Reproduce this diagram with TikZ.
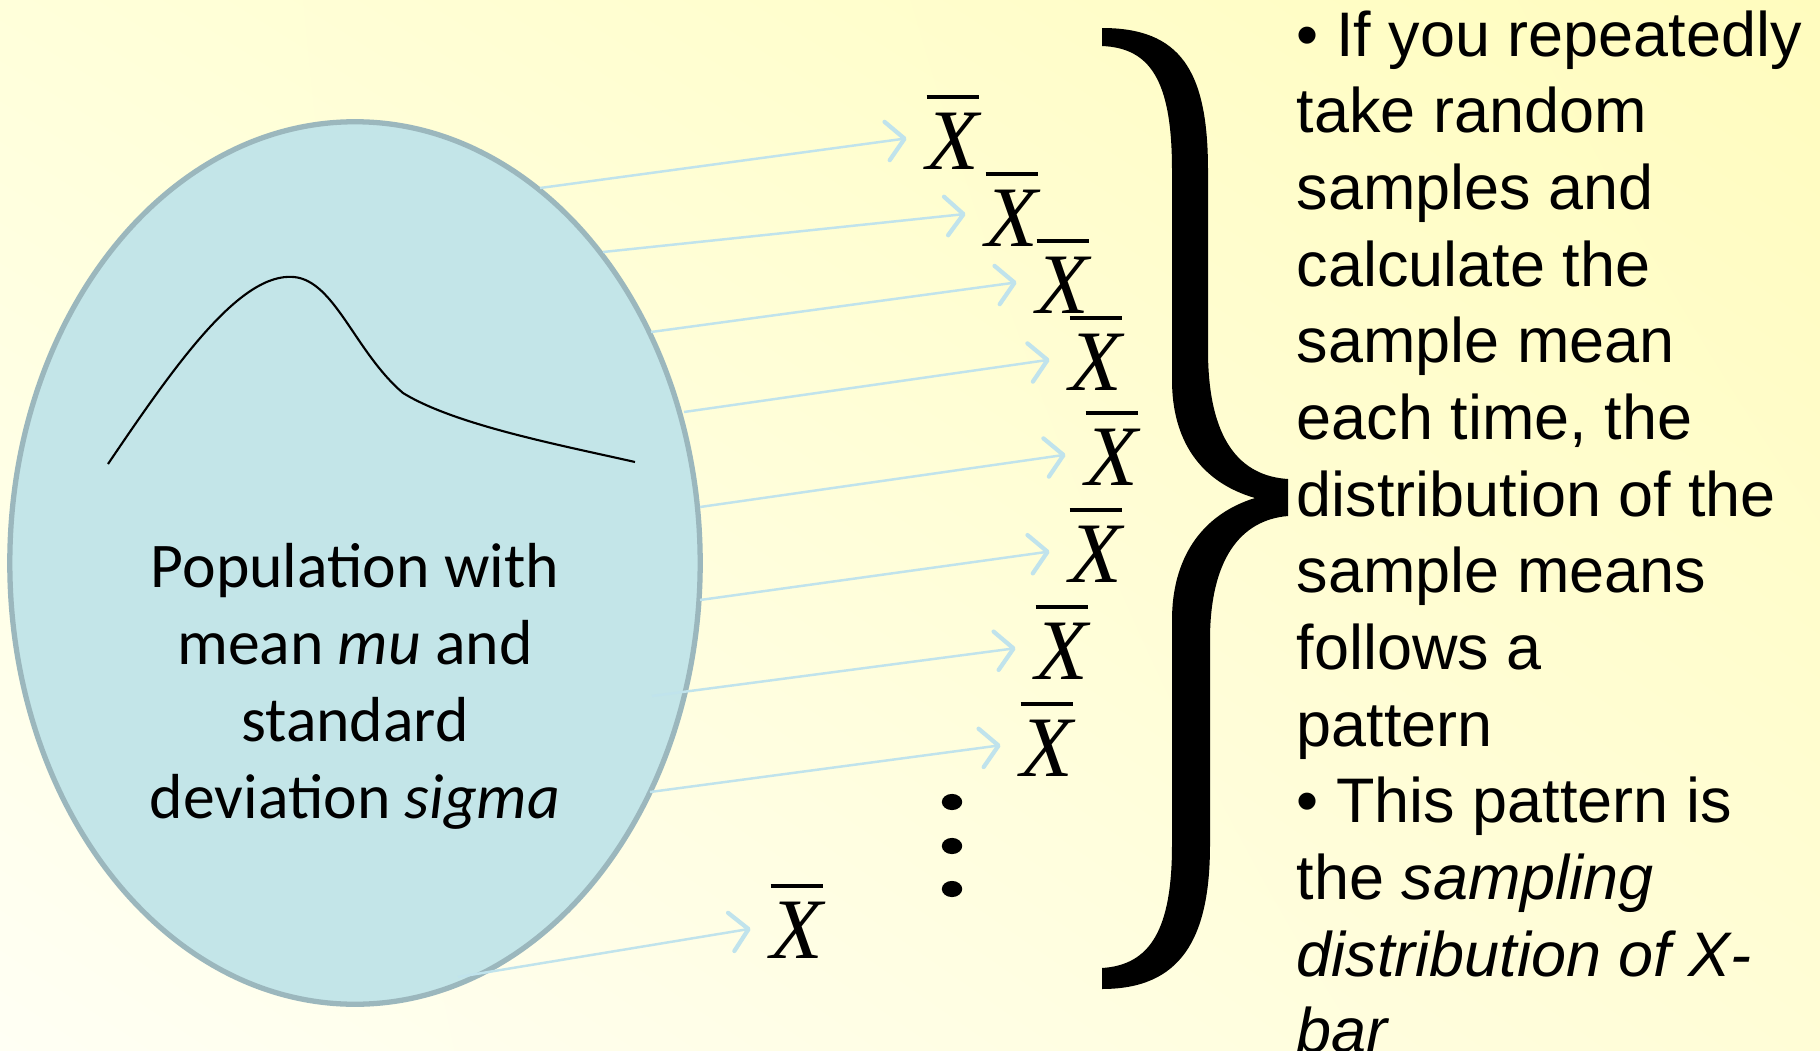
\documentclass[tikz,border=0pt]{standalone}
\usepackage{fontspec}
\setmainfont{Liberation Sans}
\newfontfamily\popfont{Carlito}
\newfontfamily\xfont{Liberation Serif}
\usetikzlibrary{shapes.geometric, arrows.meta, shadings}
\definecolor{PaleCream}{RGB}{255,255,244}
\definecolor{SoftYellow}{RGB}{255,252,190}
\definecolor{LightYellow}{RGB}{255,255,218}
\definecolor{MidYellow}{RGB}{255,253,214}
\definecolor{PopBlue}{RGB}{195,229,232}
\definecolor{PopEdge}{RGB}{155,183,189}
\definecolor{ArrowBlue}{RGB}{192,227,236}
\newcommand{\xbar}{\vbox{\hrule height 1.15pt\kern 3.8pt\hbox{\xfont\itshape X}}}

\begin{document}
\begin{tikzpicture}[x=0.01cm, y=-0.01cm,
    pop/.style={ellipse, draw=PopEdge, line width=1.5pt, fill=PopBlue, minimum width=6.9cm, minimum height=8.82cm},
    poptext/.style={align=center, inner sep=0pt, font=\popfont\fontsize{18.1}{21.9}\selectfont},
    mean/.style={anchor=base, inner sep=5.5pt, font=\fontsize{24.5}{29}\selectfont},
    note/.style={anchor=north west, align=left, inner sep=0pt, font=\fontsize{17.9}{21.8}\selectfont},
    flow/.style={draw=ArrowBlue, line width=0.7pt, -{Straight Barb[length=5pt, width=11pt, line width=1.2pt, round]}}]

    % Background
    \useasboundingbox (0,0) rectangle (1820,1051);
    \shade[upper left=LightYellow, upper right=SoftYellow, lower left=PaleCream, lower right=MidYellow] (0,0) rectangle (1820,1051);

    % Population
    \node [pop] (pop) at (355,563) {};
    \draw [line width=0.6pt] (108,464) .. controls (175,365) and (240,272) .. (294,277)
        .. controls (335,281) and (355,352) .. (403,393)
        .. controls (455,425) and (560,445) .. (635,462);
    \node [poptext] (poplabel) at (355,686) {Population with\\mean \textit{mu} and\\standard\\deviation \textit{sigma}};

    % Sample means
    \node [mean] (x1) at (953,169) {\xbar};
    \node [mean] (x2) at (1012,246) {\xbar};
    \node [mean] (x3) at (1063,313) {\xbar};
    \node [mean] (x4) at (1096,390) {\xbar};
    \node [mean] (x5) at (1112,485) {\xbar};
    \node [mean] (x6) at (1096,582) {\xbar};
    \node [mean] (x7) at (1062,679) {\xbar};
    \node [mean] (x8) at (1047,776) {\xbar};
    \node [mean] (x9) at (797,958) {\xbar};

    % vertical dots
    \fill (952,802) ellipse [x radius=2.9pt, y radius=2.3pt];
    \fill (952,846) ellipse [x radius=2.9pt, y radius=2.3pt];
    \fill (952,889) ellipse [x radius=2.9pt, y radius=2.3pt];

    % Sample starts
    \coordinate (s1) at (540,188);
    \coordinate (s2) at (603,252);
    \coordinate (s3) at (651,332);
    \coordinate (s4) at (684,412);
    \coordinate (s5) at (700,507);
    \coordinate (s6) at (700,600);
    \coordinate (s7) at (652,696);
    \coordinate (s8) at (650,792);
    \coordinate (s9) at (458,977);

    % Connectors
    \draw [flow] (s1) -- (x1);
    \draw [flow] (s2) -- (x2);
    \draw [flow] (s3) -- (x3);
    \draw [flow] (s4) -- (x4);
    \draw [flow] (s5) -- (x5);
    \draw [flow] (s6) -- (x6);
    \draw [flow] (s7) -- (x7);
    \draw [flow] (s8) -- (x8);
    \draw [flow] (s9) -- (x9);

    % Brace
    \fill (1102,28) .. controls (1180,28) and (1208,70) .. (1208,170)
        -- (1208,350) .. controls (1208,440) and (1240,476) .. (1288,479)
        -- (1288,516) .. controls (1240,520) and (1210,560) .. (1210,640)
        -- (1210,845) .. controls (1210,940) and (1180,989) .. (1102,989)
        -- (1102,968) .. controls (1150,965) and (1172,930) .. (1172,845)
        -- (1172,620) .. controls (1172,560) and (1200,515) .. (1255,498)
        .. controls (1200,482) and (1172,440) .. (1172,380)
        -- (1172,170) .. controls (1172,80) and (1150,48) .. (1102,46) -- cycle;

    % Explanation
    \node [note] (note) at (1296,10) {\textbullet{} If you repeatedly\\take random\\samples and\\calculate the\\sample mean\\each time, the\\distribution of the\\sample means\\follows a\\pattern\\\textbullet{} This pattern is\\the \textit{sampling}\\\textit{distribution of X-}\\\textit{bar}};
\end{tikzpicture}
\end{document}
